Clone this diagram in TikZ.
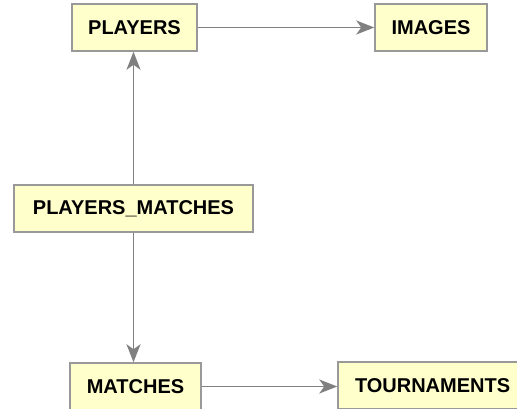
\documentclass[tikz,border=0pt]{standalone}
\usepackage{fontspec}
\setmainfont{Liberation Sans}
\usetikzlibrary{arrows.meta}
\definecolor{boxfill}{HTML}{FFFFCC}
\definecolor{boxline}{HTML}{999999}
\definecolor{arrowcol}{HTML}{808080}
\begin{document}
\begin{tikzpicture}[x=1pt,y=-1pt,
  tbl/.style={draw=boxline, fill=boxfill, line width=1.5pt, inner sep=0pt,
    minimum height=47pt, font=\fontsize{20}{24}\selectfont\bfseries},
  link/.style={draw=arrowcol, line width=1.6pt,
    -{Stealth[length=18pt,width=14pt,inset=5pt]}}]
\useasboundingbox (0,0) rectangle (517,408);
\fill[white] (0,0) rectangle (517,408);
\node[tbl, minimum width=125pt] (pl) at (134.5,27.5) {PLAYERS};
\node[tbl, minimum width=112pt] (im) at (431,27.5) {IMAGES};
\node[tbl, minimum width=239pt] (pm) at (133.5,208.5) {PLAYERS\_MATCHES};
\node[tbl, minimum width=200pt, text width=166pt, align=left] (to) at (438,385.5) {TOURNAMENTS};
\node[tbl, minimum width=131pt] (ma) at (135.5,386.5) {MATCHES};
\draw[link] (pl.east) -- (pl.east -| im.west);
\draw[link] (pm.north) -- (pm.north |- pl.south);
\draw[link] (pm.south) -- (pm.south |- ma.north);
\draw[link] (ma.east) -- (ma.east -| to.west);
\end{tikzpicture}
\end{document}
